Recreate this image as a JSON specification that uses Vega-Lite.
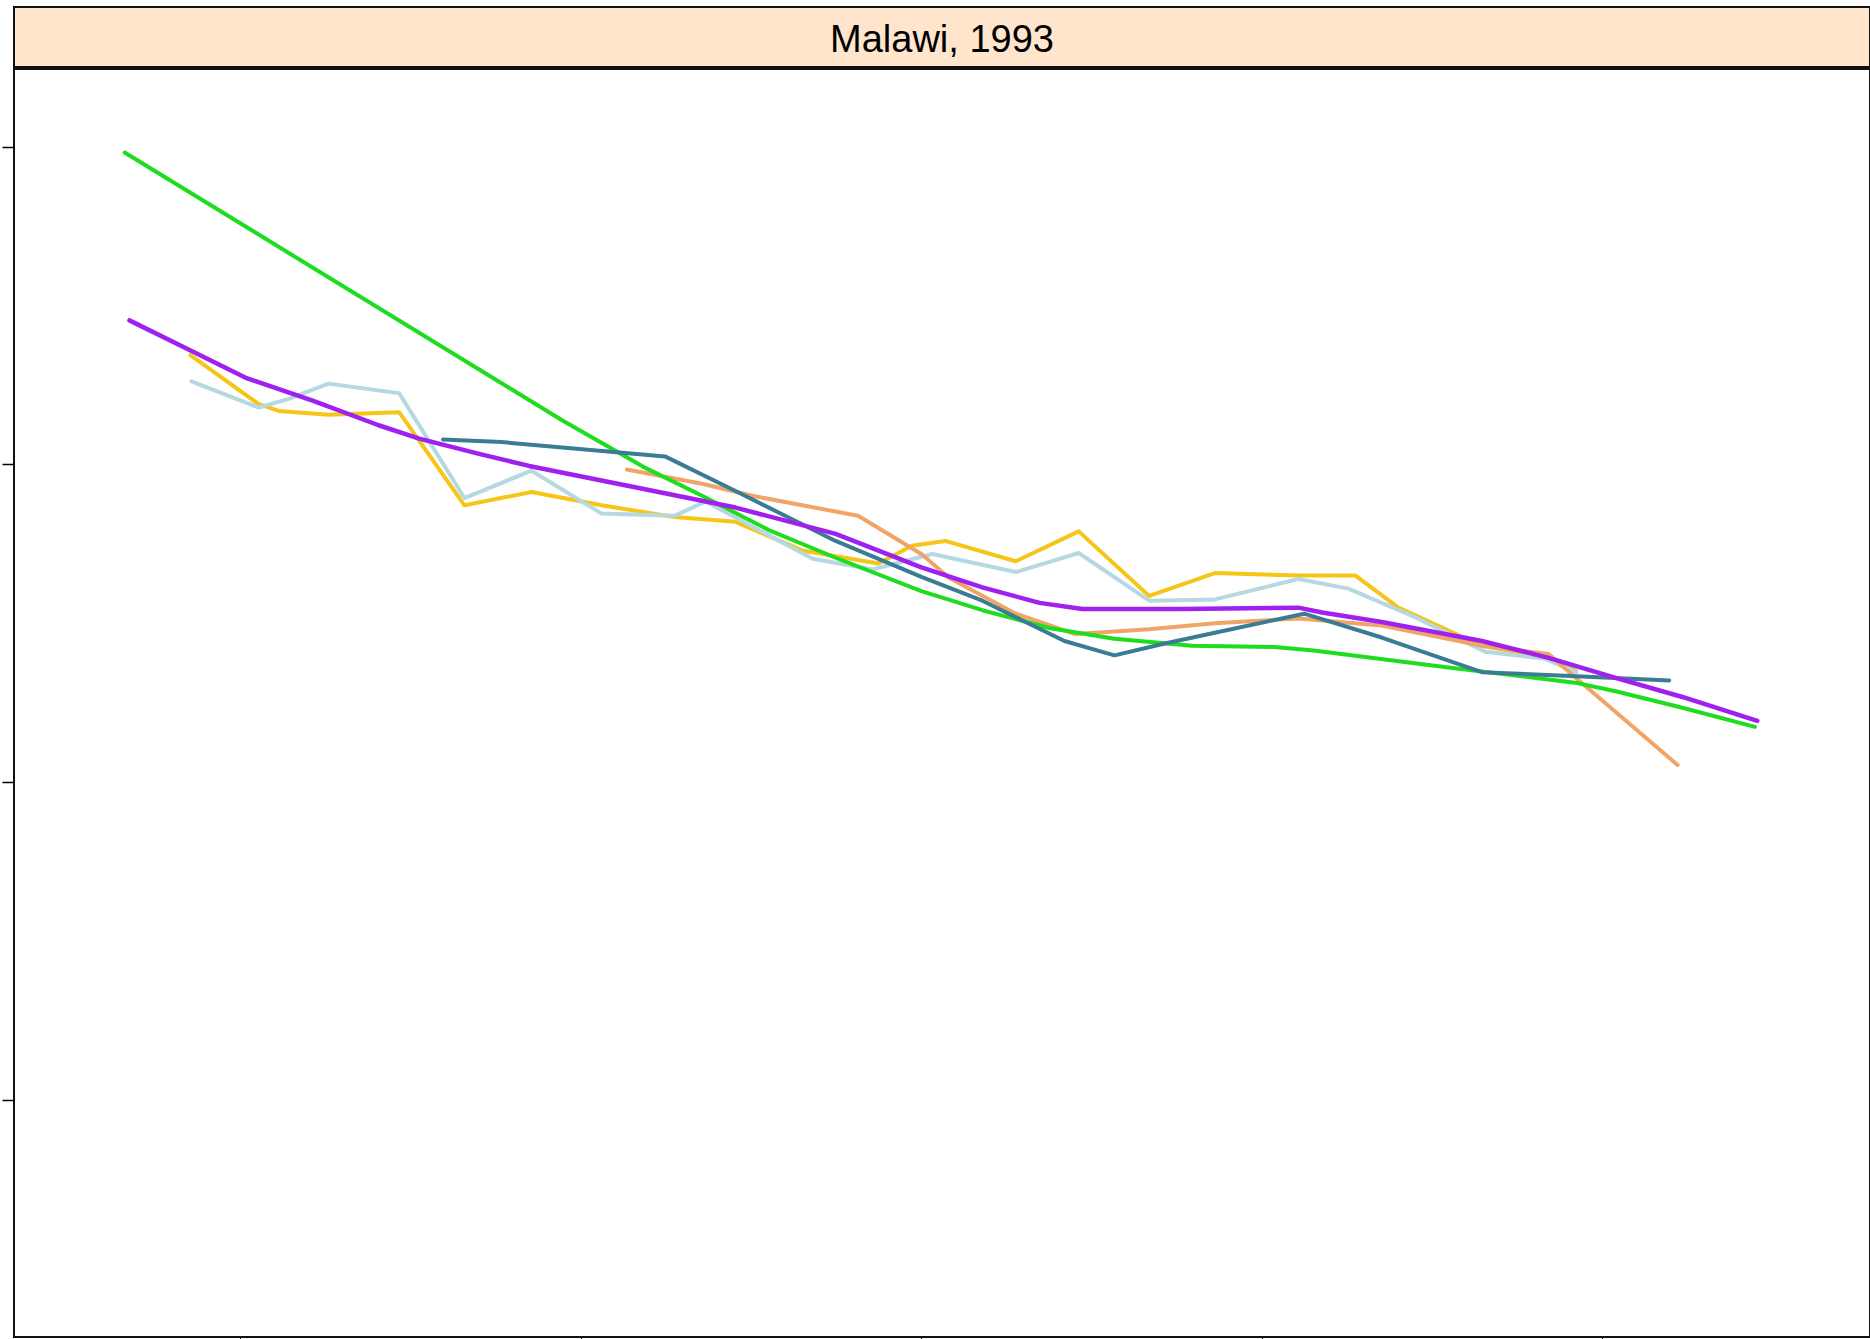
{
  "$schema": "https://vega.github.io/schema/vega-lite/v6.json",
  "padding": {"left": 0, "top": 6, "right": 0, "bottom": 0},
  "background": "white",
  "spacing": 0,
  "config": {"view": {"stroke": "#111111", "strokeWidth": 2}},
  "datasets": {
    "strip": [{"label": "Malawi, 1993"}],
    "lines": [
      {"series": "s1", "year": 1958.53, "value": 334.4},
      {"series": "s1", "year": 1960.53, "value": 319.0},
      {"series": "s1", "year": 1961.12, "value": 316.8},
      {"series": "s1", "year": 1962.59, "value": 315.6},
      {"series": "s1", "year": 1964.66, "value": 316.4},
      {"series": "s1", "year": 1966.58, "value": 287.1},
      {"series": "s1", "year": 1968.55, "value": 291.3},
      {"series": "s1", "year": 1970.61, "value": 287.1},
      {"series": "s1", "year": 1972.75, "value": 283.4},
      {"series": "s1", "year": 1974.54, "value": 281.9},
      {"series": "s1", "year": 1976.50, "value": 272.9},
      {"series": "s1", "year": 1978.74, "value": 268.8},
      {"series": "s1", "year": 1979.72, "value": 274.4},
      {"series": "s1", "year": 1980.70, "value": 275.9},
      {"series": "s1", "year": 1982.77, "value": 269.5},
      {"series": "s1", "year": 1984.62, "value": 278.9},
      {"series": "s1", "year": 1986.69, "value": 258.6},
      {"series": "s1", "year": 1988.62, "value": 265.8},
      {"series": "s1", "year": 1991.17, "value": 265.0},
      {"series": "s1", "year": 1992.75, "value": 265.0},
      {"series": "s1", "year": 1994.01, "value": 254.9},
      {"series": "s1", "year": 1996.46, "value": 242.9},
      {"series": "s1", "year": 1998.42, "value": 239.1},
      {"series": "s1", "year": 1999.23, "value": 235.0},

      {"series": "s2", "year": 1958.56, "value": 326.1},
      {"series": "s2", "year": 1960.53, "value": 317.9},
      {"series": "s2", "year": 1961.40, "value": 320.5},
      {"series": "s2", "year": 1962.59, "value": 325.4},
      {"series": "s2", "year": 1964.66, "value": 322.4},
      {"series": "s2", "year": 1966.58, "value": 289.4},
      {"series": "s2", "year": 1968.55, "value": 298.0},
      {"series": "s2", "year": 1970.61, "value": 284.5},
      {"series": "s2", "year": 1972.75, "value": 283.8},
      {"series": "s2", "year": 1973.66, "value": 288.3},
      {"series": "s2", "year": 1976.81, "value": 270.3},
      {"series": "s2", "year": 1978.56, "value": 266.9},
      {"series": "s2", "year": 1980.32, "value": 271.8},
      {"series": "s2", "year": 1982.77, "value": 266.1},
      {"series": "s2", "year": 1984.62, "value": 272.1},
      {"series": "s2", "year": 1986.69, "value": 257.1},
      {"series": "s2", "year": 1988.62, "value": 257.5},
      {"series": "s2", "year": 1991.07, "value": 263.9},
      {"series": "s2", "year": 1992.54, "value": 260.9},
      {"series": "s2", "year": 1994.50, "value": 251.9},
      {"series": "s2", "year": 1996.57, "value": 241.0},
      {"series": "s2", "year": 1998.32, "value": 238.8},
      {"series": "s2", "year": 1999.23, "value": 234.6},

      {"series": "s3", "year": 1971.35, "value": 298.4},
      {"series": "s3", "year": 1973.56, "value": 293.9},
      {"series": "s3", "year": 1975.03, "value": 290.1},
      {"series": "s3", "year": 1978.14, "value": 283.8},
      {"series": "s3", "year": 1980.00, "value": 271.8},
      {"series": "s3", "year": 1980.81, "value": 264.3},
      {"series": "s3", "year": 1982.77, "value": 253.0},
      {"series": "s3", "year": 1984.52, "value": 246.6},
      {"series": "s3", "year": 1986.69, "value": 248.1},
      {"series": "s3", "year": 1988.62, "value": 250.0},
      {"series": "s3", "year": 1991.07, "value": 251.5},
      {"series": "s3", "year": 1993.52, "value": 249.3},
      {"series": "s3", "year": 1996.46, "value": 242.9},
      {"series": "s3", "year": 1998.42, "value": 240.3},
      {"series": "s3", "year": 1999.19, "value": 233.1},
      {"series": "s3", "year": 2002.21, "value": 205.4},

      {"series": "s4", "year": 1956.60, "value": 398.1},
      {"series": "s4", "year": 1969.46, "value": 313.8},
      {"series": "s4", "year": 1971.91, "value": 298.8},
      {"series": "s4", "year": 1973.56, "value": 290.1},
      {"series": "s4", "year": 1975.52, "value": 279.3},
      {"series": "s4", "year": 1977.48, "value": 270.6},
      {"series": "s4", "year": 1980.00, "value": 260.1},
      {"series": "s4", "year": 1981.79, "value": 254.1},
      {"series": "s4", "year": 1983.75, "value": 248.5},
      {"series": "s4", "year": 1985.67, "value": 245.1},
      {"series": "s4", "year": 1987.95, "value": 242.9},
      {"series": "s4", "year": 1990.37, "value": 242.5},
      {"series": "s4", "year": 1991.52, "value": 241.4},
      {"series": "s4", "year": 1995.48, "value": 236.1},
      {"series": "s4", "year": 1999.19, "value": 231.3},
      {"series": "s4", "year": 2000.39, "value": 228.6},
      {"series": "s4", "year": 2002.35, "value": 223.4},
      {"series": "s4", "year": 2004.48, "value": 217.4},

      {"series": "s5", "year": 1965.95, "value": 307.8},
      {"series": "s5", "year": 1967.67, "value": 307.0},
      {"series": "s5", "year": 1972.47, "value": 302.5},
      {"series": "s5", "year": 1974.54, "value": 291.6},
      {"series": "s5", "year": 1977.48, "value": 275.9},
      {"series": "s5", "year": 1980.00, "value": 264.6},
      {"series": "s5", "year": 1981.79, "value": 257.1},
      {"series": "s5", "year": 1984.20, "value": 244.4},
      {"series": "s5", "year": 1985.67, "value": 239.9},
      {"series": "s5", "year": 1987.15, "value": 243.6},
      {"series": "s5", "year": 1988.62, "value": 247.0},
      {"series": "s5", "year": 1991.24, "value": 253.0},
      {"series": "s5", "year": 1993.52, "value": 245.5},
      {"series": "s5", "year": 1996.46, "value": 234.6},
      {"series": "s5", "year": 1998.91, "value": 233.5},
      {"series": "s5", "year": 2001.96, "value": 232.0},

      {"series": "s6", "year": 1956.74, "value": 345.3},
      {"series": "s6", "year": 1958.67, "value": 335.1},
      {"series": "s6", "year": 1960.14, "value": 327.3},
      {"series": "s6", "year": 1962.10, "value": 320.1},
      {"series": "s6", "year": 1964.06, "value": 312.3},
      {"series": "s6", "year": 1965.25, "value": 308.1},
      {"series": "s6", "year": 1967.01, "value": 303.3},
      {"series": "s6", "year": 1968.48, "value": 299.5},
      {"series": "s6", "year": 1971.59, "value": 292.8},
      {"series": "s6", "year": 1974.54, "value": 286.4},
      {"series": "s6", "year": 1977.48, "value": 278.1},
      {"series": "s6", "year": 1980.00, "value": 267.6},
      {"series": "s6", "year": 1981.79, "value": 261.3},
      {"series": "s6", "year": 1983.47, "value": 256.4},
      {"series": "s6", "year": 1984.73, "value": 254.5},
      {"series": "s6", "year": 1987.64, "value": 254.5},
      {"series": "s6", "year": 1991.07, "value": 254.9},
      {"series": "s6", "year": 1991.77, "value": 253.4},
      {"series": "s6", "year": 1993.52, "value": 250.4},
      {"series": "s6", "year": 1996.46, "value": 244.4},
      {"series": "s6", "year": 1998.42, "value": 239.1},
      {"series": "s6", "year": 2000.39, "value": 232.8},
      {"series": "s6", "year": 2002.35, "value": 226.8},
      {"series": "s6", "year": 2004.55, "value": 219.3}
    ]
  },
  "vconcat": [
    {
      "width": 1856,
      "height": 60,
      "view": {"fill": "#FFE5CC", "stroke": "#111111", "strokeWidth": 2},
      "data": {"name": "strip"},
      "mark": {"type": "text", "fontSize": 38, "font": "Liberation Sans", "color": "#000000", "align": "center", "baseline": "middle", "dy": 4},
      "encoding": {"text": {"field": "label", "type": "nominal"}}
    },
    {
      "width": 1856,
      "height": 1268,
      "data": {"name": "lines"},
      "encoding": {
        "x": {
          "field": "year", "type": "quantitative",
          "scale": {"domain": [1953.35, 2007.86], "nice": false, "zero": false},
          "axis": {"title": null, "labels": false, "grid": false, "domain": false, "ticks": true, "tickSize": 3, "tickColor": "#000000", "tickWidth": 1, "values": [1960, 1970, 1980, 1990, 2000]}
        },
        "y": {
          "field": "value", "type": "quantitative",
          "scale": {"domain": [25.4, 424.4], "nice": false, "zero": false},
          "axis": {"title": null, "labels": false, "grid": false, "domain": false, "ticks": true, "tickSize": 12, "tickColor": "#000000", "tickWidth": 1.5, "values": [100, 200, 300, 400]}
        },
        "color": {
          "field": "series", "type": "nominal",
          "scale": {"domain": ["s1", "s2", "s3", "s4", "s5", "s6"], "range": ["#F5C518", "#B5D8E3", "#F0A468", "#1EDC1E", "#3A7C94", "#A020F0"]},
          "legend": null
        }
      },
      "layer": [
        {"transform": [{"filter": "datum.series === 's1'"}], "mark": {"type": "line", "strokeWidth": 4, "strokeJoin": "round", "strokeCap": "round"}},
        {"transform": [{"filter": "datum.series === 's2'"}], "mark": {"type": "line", "strokeWidth": 4, "strokeJoin": "round", "strokeCap": "round"}},
        {"transform": [{"filter": "datum.series === 's3'"}], "mark": {"type": "line", "strokeWidth": 4, "strokeJoin": "round", "strokeCap": "round"}},
        {"transform": [{"filter": "datum.series === 's4'"}], "mark": {"type": "line", "strokeWidth": 4, "strokeJoin": "round", "strokeCap": "round"}},
        {"transform": [{"filter": "datum.series === 's5'"}], "mark": {"type": "line", "strokeWidth": 4, "strokeJoin": "round", "strokeCap": "round"}},
        {"transform": [{"filter": "datum.series === 's6'"}], "mark": {"type": "line", "strokeWidth": 4.5, "strokeJoin": "round", "strokeCap": "round"}}
      ]
    }
  ]
}
